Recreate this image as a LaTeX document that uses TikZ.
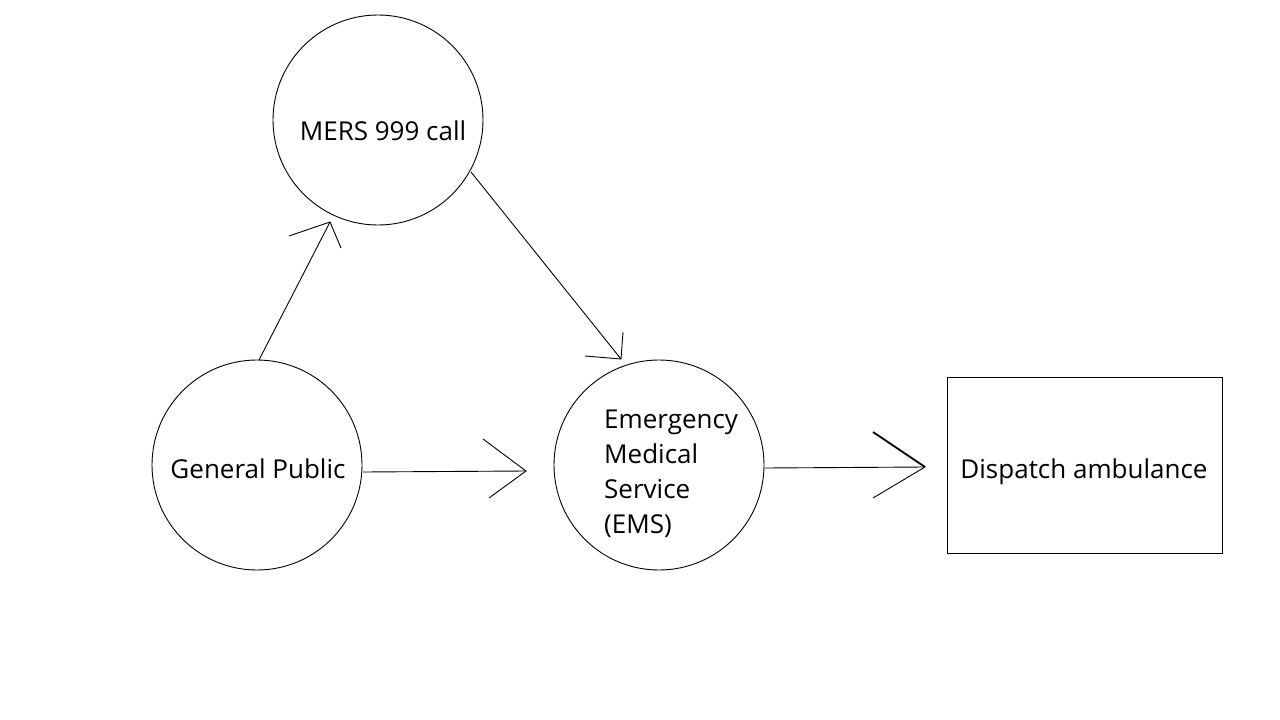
\documentclass[tikz,border=0pt]{standalone}
\usepackage{fontspec}
\setmainfont{Open Sans}
\begin{document}
\begin{tikzpicture}[x=1pt,y=-1pt,
  circ/.style={draw,circle,minimum size=210pt,inner sep=0pt,line width=0.9pt},
  boxnode/.style={draw,rectangle,line width=0.9pt,minimum width=275pt,minimum height=176pt,inner sep=0pt},
  lbl/.style={font=\fontsize{26}{35}\selectfont,inner sep=0pt},
  conn/.style={line width=0.9pt}]
\path[fill=white] (0,0) rectangle (1280,720);
\useasboundingbox (0,0) rectangle (1280,720);
\node[circ] (mers) at (378,120) {};
\node[lbl] (mersl) at (383,131) {MERS 999 call};
\node[circ] (gp) at (257,465) {};
\node[lbl] (gpl) at (258,469) {General Public};
\node[circ] (ems) at (659,465) {};
\node[lbl,align=left,anchor=west] (emsl) at (604,474) {Emergency\\Medical\\Service\\(EMS)};
\node[boxnode] (disp) at (1084.5,465) {};
\node[lbl] (displ) at (1084,472) {Dispatch ambulance};
% arrow 1
\coordinate (t1) at (330,222);
\coordinate (a1) at (289,236);
\coordinate (b1) at (341,248);
\coordinate (s1) at (259,360);
\draw[conn] (s1) -- (t1);
\draw[conn] (a1) -- (t1) -- (b1);
% arrow 2
\coordinate (s2) at (363,472);
\coordinate (t2) at (526,471);
\coordinate (a2) at (483,439);
\coordinate (b2) at (489,498);
\draw[conn] (s2) -- (t2);
\draw[conn] (a2) -- (t2) -- (b2);
% arrow 3
\coordinate (s3) at (471,172);
\coordinate (t3) at (621,359);
\coordinate (a3) at (585,356);
\coordinate (b3) at (623,332);
\draw[conn] (s3) -- (t3);
\draw[conn] (a3) -- (t3) -- (b3);
% arrow 4
\coordinate (s4) at (765,468);
\coordinate (t4) at (925,467);
\coordinate (a4) at (873,432);
\coordinate (b4) at (873,498);
\draw[conn] (s4) -- (t4);
\draw[line width=1.8pt] (a4) -- (t4);
\draw[conn] (t4) -- (b4);
\end{tikzpicture}
\end{document}
